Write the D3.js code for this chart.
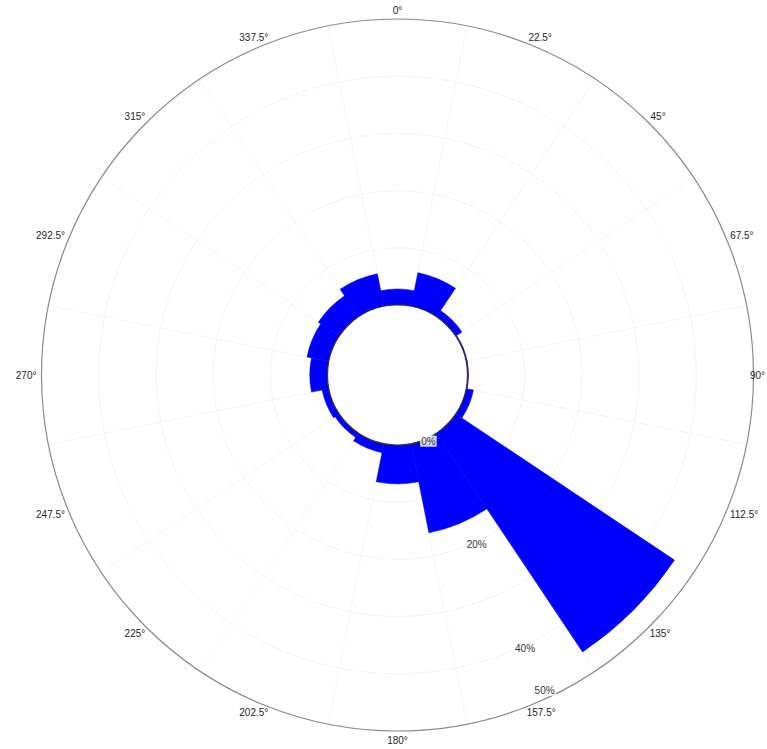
<!DOCTYPE html>
<html>
<head>
<meta charset="utf-8">
<script src="https://cdn.jsdelivr.net/npm/d3@7"></script>
<style>
  html, body { margin: 0; padding: 0; background: #ffffff; overflow: hidden; }
  svg { display: block; }
  text { font-family: "Liberation Sans", Arial, sans-serif; }
</style>
</head>
<body>
<svg id="chart" width="767" height="749"></svg>
<script>
// Wind direction sectors (degrees, clockwise from north)
const directions = [0, 22.5, 45, 67.5, 90, 112.5, 135, 157.5, 180, 202.5, 225, 247.5, 270, 292.5, 315, 337.5];
// Frequency of each direction (%)
const frequencies = [2.8, 6.0, 1.3, 0.2, 0.2, 1.3, 46.0, 15.9, 6.8, 1.6, 0.9, 1.2, 3.1, 3.9, 4.4, 5.8];
// Direction tick labels
const directionLabels = ["0°", "22.5°", "45°", "67.5°", "90°", "112.5°", "135°", "157.5°",
                         "180°", "202.5°", "225°", "247.5°", "270°", "292.5°", "315°", "337.5°"];
// Radial (frequency) grid and labels
const radialGrid = [10, 20, 30, 40];
const radialTicks = [0, 20, 40, 50];
const radialTickLabels = ["0%", "20%", "40%", "50%"];
const radialMax = 50;

const width = 767;
const svg = d3.select("#chart");
const cx = 397.5, cy = 375;
const innerR = 70, outerR = 356;
const sector = 22.5;
const labelAngle = 155;

const r = d3.scaleLinear().domain([0, radialMax]).range([innerR, outerR]);
const toRad = d => d * Math.PI / 180;

const g = svg.append("g").attr("transform", `translate(${cx},${cy})`);

// faint grid rings
g.selectAll("circle.grid").data(radialGrid).join("circle")
  .attr("class", "grid")
  .attr("r", d => r(d))
  .attr("fill", "none")
  .attr("stroke", "#f3f3f3")
  .attr("stroke-width", 1);

// faint spokes along the sector edges
g.selectAll("line.spoke").data(directions).join("line")
  .attr("class", "spoke")
  .attr("x1", d => innerR * Math.sin(toRad(d + sector / 2)))
  .attr("y1", d => -innerR * Math.cos(toRad(d + sector / 2)))
  .attr("x2", d => outerR * Math.sin(toRad(d + sector / 2)))
  .attr("y2", d => -outerR * Math.cos(toRad(d + sector / 2)))
  .attr("stroke", "#f3f3f3")
  .attr("stroke-width", 1);

// outer boundary
g.append("circle")
  .attr("r", outerR)
  .attr("fill", "none")
  .attr("stroke", "#8a8a8a")
  .attr("stroke-width", 1.2);

// wind rose bars
const arc = d3.arc();
g.selectAll("path.bar").data(directions).join("path")
  .attr("class", "bar")
  .attr("d", (d, i) => arc({
    innerRadius: innerR,
    outerRadius: r(frequencies[i]),
    startAngle: toRad(d - sector / 2),
    endAngle: toRad(d + sector / 2)
  }))
  .attr("fill", "#0000ff")
  .attr("stroke", "#0000ee")
  .attr("stroke-width", 0.5);

// empty centre
g.append("circle")
  .attr("r", innerR)
  .attr("fill", "#ffffff")
  .attr("stroke", "#333333")
  .attr("stroke-width", 1.2);

// radial tick labels with white boxes
const ticks = g.selectAll("g.rtick").data(radialTicks).join("g")
  .attr("class", "rtick")
  .attr("transform", d => {
    const rr = Math.min(r(d) + 3, outerR - 8);
    return `translate(${rr * Math.sin(toRad(labelAngle))},${-rr * Math.cos(toRad(labelAngle))})`;
  });
ticks.append("rect");
ticks.append("text")
  .attr("text-anchor", "middle")
  .attr("dy", "0.35em")
  .attr("font-size", 10)
  .attr("fill", "#333333")
  .text((d, i) => radialTickLabels[i]);
ticks.each(function() {
  const t = d3.select(this).select("text");
  const b = t.node().getBBox();
  d3.select(this).select("rect")
    .attr("x", b.x - 1).attr("y", b.y)
    .attr("width", b.width + 2).attr("height", b.height)
    .attr("fill", "#ffffff").attr("fill-opacity", 0.85);
});

// direction labels around the rim, kept inside the drawing area
const labR = 361;
g.selectAll("text.dir").data(directions).join("text")
  .attr("class", "dir")
  .attr("font-size", 10)
  .attr("fill", "#262626")
  .attr("text-anchor", "middle")
  .attr("dy", "0.35em")
  .text((d, i) => directionLabels[i])
  .each(function(d) {
    const w = this.getComputedTextLength();
    const a = toRad(d);
    let x = labR * Math.sin(a) + (w / 2) * Math.sin(a);
    const maxX = width - 2 - cx - w / 2;
    x = Math.min(x, maxX);
    const y = -labR * Math.cos(a) - 4 * Math.cos(a);
    d3.select(this).attr("x", x).attr("y", y);
  });
</script>
</body>
</html>
